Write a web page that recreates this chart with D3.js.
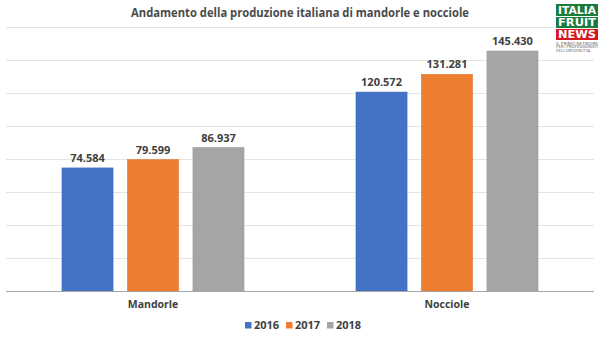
<!DOCTYPE html>
<html>
<head>
<meta charset="utf-8">
<script src="https://cdn.jsdelivr.net/npm/d3@7"></script>
<style>
  html, body { margin: 0; padding: 0; background: #fff; }
  svg { display: block; font-family: "Open Sans", "Liberation Sans", sans-serif; }
</style>
</head>
<body>
<div id="chart"></div>
<script>
// Production data (tonnes)
const categories = ["Mandorle", "Nocciole"];
const years = ["2016", "2017", "2018"];
const values2016 = [74584, 120572];
const values2017 = [79599, 131281];
const values2018 = [86937, 145430];
const yTicks = [0, 20000, 40000, 60000, 80000, 100000, 120000, 140000, 160000];
const colors = ["#4472C4", "#ED7D31", "#A5A5A5"];
const title = "Andamento della produzione italiana di mandorle e nocciole";

const series = [values2016, values2017, values2018];
const rows = categories.map((c, i) => ({
  category: c,
  values: years.map((y, j) => ({ year: y, value: series[j][i], color: colors[j] }))
}));

const W = 600, H = 337;
const plot = { left: 6, right: 594, top: 27, bottom: 291 };

const svg = d3.select("#chart").append("svg").attr("width", W).attr("height", H);

const x0 = d3.scaleBand().domain(categories).range([plot.left, plot.right]).padding(0);
const x1 = d3.scaleBand().domain(years).range([0, x0.bandwidth()])
  .paddingInner(0.22).paddingOuter(0.855);
const y = d3.scaleLinear().domain([0, 160000]).range([plot.bottom, plot.top]);

const it = d3.formatLocale({ decimal: ",", thousands: ".", grouping: [3], currency: ["€", ""] });
const fmt = it.format(",d");

// Horizontal gridlines
svg.append("g")
  .selectAll("line")
  .data(yTicks.slice(1))
  .join("line")
  .attr("x1", plot.left).attr("x2", plot.right)
  .attr("y1", d => Math.round(y(d)) + 0.5).attr("y2", d => Math.round(y(d)) + 0.5)
  .attr("stroke", "#e4e4e4").attr("stroke-width", 1);

// Bars
const groups = svg.append("g")
  .selectAll("g")
  .data(rows)
  .join("g")
  .attr("transform", d => `translate(${x0(d.category)},0)`);

groups.selectAll("rect")
  .data(d => d.values)
  .join("rect")
  .attr("x", d => x1(d.year))
  .attr("y", d => y(d.value))
  .attr("width", x1.bandwidth())
  .attr("height", d => y(0) - y(d.value))
  .attr("fill", d => d.color)
  .attr("stroke", d => d3.color(d.color).darker(0.15))
  .attr("stroke-width", 0.6);

// Value labels
groups.selectAll("text")
  .data(d => d.values)
  .join("text")
  .attr("x", d => x1(d.year) + x1.bandwidth() / 2)
  .attr("y", d => y(d.value) - 6)
  .attr("text-anchor", "middle")
  .attr("font-size", 11)
  .attr("font-weight", 700)
  .attr("fill", "#404040")
  .text(d => fmt(d.value));

// Category axis
const xAxis = svg.append("g")
  .attr("transform", `translate(0,${plot.bottom})`)
  .call(d3.axisBottom(x0).tickSize(0).tickPadding(10));
xAxis.select(".domain")
  .attr("d", `M${plot.left},0.5H${plot.right}`)
  .attr("stroke", "#a6a6a6").attr("stroke-width", 1.2);
xAxis.selectAll("text")
  .attr("font-family", "\"Open Sans\", sans-serif")
  .attr("font-size", 10.5).attr("font-weight", 700).attr("fill", "#404040");

// Title
svg.append("text")
  .attr("x", 300).attr("y", 17)
  .attr("text-anchor", "middle")
  .attr("font-size", 12.5)
  .attr("font-weight", 700)
  .attr("fill", "#4a4a4a")
  .attr("textLength", 338).attr("lengthAdjust", "spacingAndGlyphs")
  .text(title);

// Legend
const legend = svg.append("g")
  .selectAll("g")
  .data(years)
  .join("g")
  .attr("transform", (d, i) => `translate(${245 + i * 41},322)`);
legend.append("rect").attr("width", 6.5).attr("height", 6.5).attr("fill", (d, i) => colors[i]);
legend.append("text")
  .attr("x", 9).attr("y", 7)
  .attr("font-size", 11).attr("font-weight", 700).attr("fill", "#404040")
  .text(d => d);

// Publisher badge
const logo = svg.append("g").attr("transform", "translate(556,4)");
logo.append("rect").attr("x", -2).attr("y", -2).attr("width", 46).attr("height", 50).attr("fill", "#fff");
const boxes = [
  { t: "ITALIA", y: 0, h: 12, fill: "#1b7b3a" },
  { t: "FRUIT", y: 13, h: 11, fill: "#1b7b3a" },
  { t: "NEWS", y: 25, h: 11, fill: "#d7161e" }
];
boxes.forEach(b => {
  logo.append("rect").attr("x", 0).attr("y", b.y).attr("width", 42).attr("height", b.h).attr("fill", b.fill);
  logo.append("text").attr("x", 21).attr("y", b.y + b.h - 2)
    .attr("text-anchor", "middle").attr("font-family", "\"DejaVu Sans\", sans-serif")
    .attr("font-size", 10).attr("font-weight", 700).attr("fill", "#fff")
    .attr("textLength", 38).attr("lengthAdjust", "spacingAndGlyphs")
    .text(b.t);
});
["IL PRIMO NETWORK", "PER I PROFESSIONISTI", "DELL'ORTOFRUTTA"].forEach((s, i) => {
  logo.append("text").attr("x", 0).attr("y", 41 + i * 3.4)
    .attr("font-size", 3.2).attr("fill", "#555")
    .attr("textLength", i === 2 ? 34 : 42).attr("lengthAdjust", "spacingAndGlyphs")
    .text(s);
});
</script>
</body>
</html>
